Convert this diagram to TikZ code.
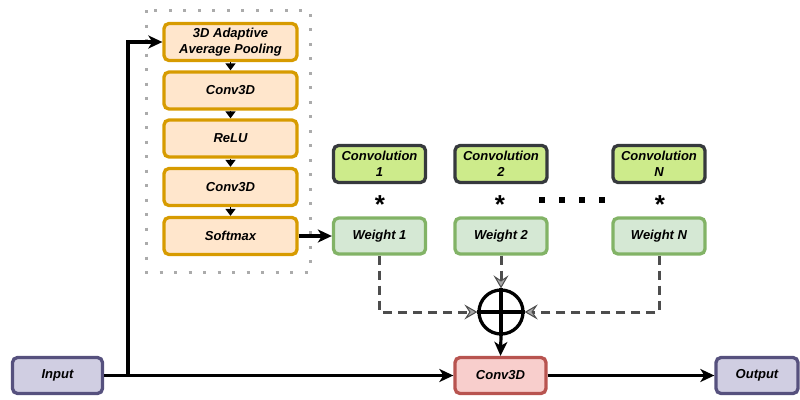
\documentclass[tikz,border=0pt]{standalone}
\usepackage{fontspec}
\setmainfont{Liberation Sans}
\usetikzlibrary{arrows.meta}
\definecolor{orfill}{HTML}{FFE6CC}\definecolor{ordraw}{HTML}{D79B00}
\definecolor{grfill}{HTML}{D5E8D4}\definecolor{grdraw}{HTML}{82B366}
\definecolor{lmfill}{HTML}{CDEB8B}\definecolor{lmdraw}{HTML}{36393D}
\definecolor{rdfill}{HTML}{F8CECC}\definecolor{rddraw}{HTML}{B85450}
\definecolor{pufill}{HTML}{D0CEE2}\definecolor{pudraw}{HTML}{56517E}
\definecolor{dashgray}{HTML}{4D4D4D}
\definecolor{dotgray}{HTML}{ABABAB}
\begin{document}
\begin{tikzpicture}[x=1pt,y=-1pt,
  lbl/.style={font=\fontsize{13}{16}\selectfont\bfseries\itshape, align=center},
  box/.style={lbl, rounded corners=5pt, line width=3.3pt, inner sep=0pt},
  stage/.style={box, draw=ordraw, fill=orfill, minimum width=133pt, minimum height=37pt},
  weightbox/.style={box, draw=grdraw, fill=grfill, minimum width=92pt, minimum height=36pt},
  convbox/.style={box, draw=lmdraw, fill=lmfill, minimum width=92pt, minimum height=37pt},
  iobox/.style={box, draw=pudraw, fill=pufill, minimum width=90pt, minimum height=36pt},
  mainarrow/.style={line width=3.2pt, -{Stealth[length=14pt,width=13pt,inset=4pt]}},
  steparrow/.style={line width=1.5pt, -{Triangle[length=7pt,width=10pt]}},
  dasharrow/.style={line width=3pt, draw=dashgray, dash pattern=on 9pt off 6pt,
    -{Stealth[length=13pt,width=15pt,inset=5pt,color=dashgray,fill=gray!70,line width=1pt]}},
]
\useasboundingbox (0,0) rectangle (800,399);

% dotted frame round the attention branch
\draw[dotgray, line width=3pt, dash pattern=on 3pt off 11.5pt] (146,10) rectangle (310,272);

% attention branch
\node[stage] (pool) at (230.5,42) {3D Adaptive\\Average Pooling};
\node[stage] (c1) at (230.5,90.5) {Conv3D};
\node[stage] (relu) at (230.5,138.5) {ReLU};
\node[stage] (c2) at (230.5,187) {Conv3D};
\node[stage] (soft) at (230.5,236) {Softmax};
\foreach \a/\b in {pool/c1, c1/relu, relu/c2, c2/soft}
  \draw[steparrow] (\a.south) -- (\b.north);

% convolution kernels and their weights
\node[convbox] (k1) at (379.5,164) {Convolution\\1};
\node[convbox] (k2) at (501,164) {Convolution\\2};
\node[convbox] (kn) at (659,164) {Convolution\\N};
\node[weightbox] (w1) at (379.5,236) {Weight 1};
\node[weightbox] (w2) at (501,236) {Weight 2};
\node[weightbox] (wn) at (659,236) {Weight N};
\foreach \x/\n in {380/s1, 500/s2, 660/sn}
  \node[font=\fontsize{26}{26}\selectfont\bfseries, inner sep=0pt] (\n) at (\x,205) {*};
\foreach \x/\n in {542/d1, 562/d2, 582/d3, 602/d4}
  \fill (\x-2.7,197.3) rectangle (\x+2.7,202.7);

% summation node
\node[circle, draw, line width=3.3pt, minimum size=44pt, inner sep=0pt] (sum) at (501,312) {};
\draw[line width=3.3pt] (sum.north) -- (sum.south) (sum.west) -- (sum.east);

% bottom row
\node[iobox] (in) at (57.5,375.5) {Input};
\node[box, draw=rddraw, fill=rdfill, minimum width=91pt, minimum height=36pt] (conv) at (500.5,375.5) {Conv3D};
\node[iobox, minimum width=82pt] (out) at (757,375.5) {Output};

% connectors
\coordinate (split) at (128,375.5);
\draw[mainarrow] (in.east) -- (conv.west);
\draw[line width=3.2pt] (split) -- (128,42) coordinate (turn);
\draw[mainarrow] (126.4,42) -- (pool.west);
\draw[mainarrow] (soft.east) -- (w1.west);
\draw[mainarrow] (sum.south) -- (conv.north);
\draw[mainarrow] (conv.east) -- (out.west);
\draw[dasharrow] (w1.south) |- (sum.west);
\draw[dasharrow] (w2.south) -- (sum.north);
\draw[dasharrow] (wn.south) |- (sum.east);
\end{tikzpicture}
\end{document}
